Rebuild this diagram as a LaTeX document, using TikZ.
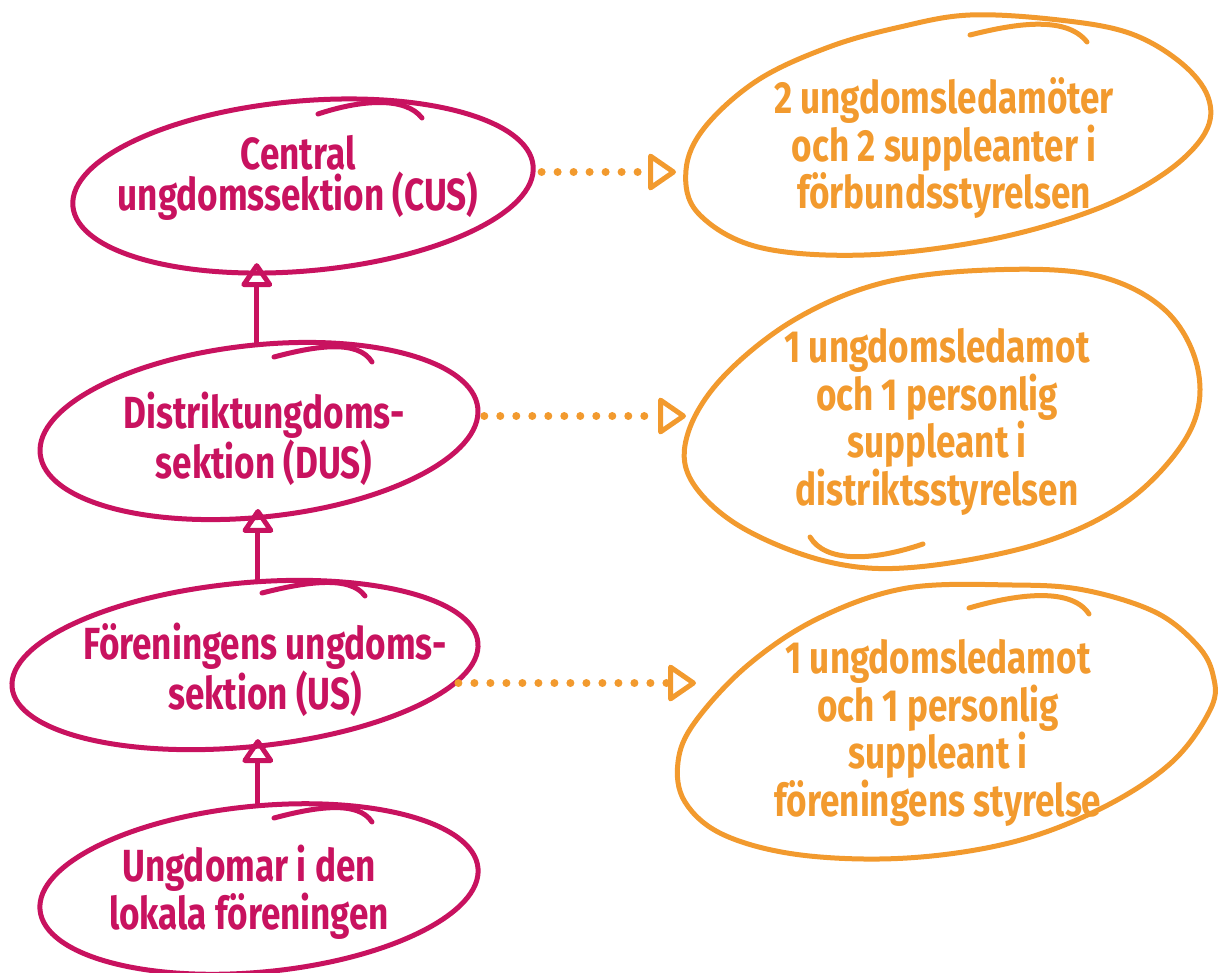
\documentclass[tikz,border=0pt]{standalone}
\usepackage{fontspec}
\setmainfont{Fira Sans}[FakeStretch=0.78]
\usetikzlibrary{shapes.geometric,arrows.meta}
\definecolor{mag}{HTML}{C8125F}
\definecolor{org}{HTML}{F29A2E}
\begin{document}
\begin{tikzpicture}[x=1pt,y=-1pt,
  mel/.style={draw=mag, line width=5pt, ellipse, inner sep=0pt},
  oline/.style={draw=org, line width=5pt, line join=round},
  mtail/.style={draw=mag, line width=5pt, line cap=round},
  otail/.style={draw=org, line width=5pt, line cap=round},
  mtxt/.style={text=mag, align=center, font=\fontsize{45}{41}\selectfont\bfseries},
  otxt/.style={text=org, align=center, font=\fontsize{45}{41}\selectfont\bfseries},
  uparr/.style={draw=mag, line width=5pt, -{Triangle[open, length=26pt, width=34pt, round]}},
  dotarr/.style={draw=org, line width=8pt, line cap=round, dash pattern=on 0pt off 16pt,
    -{Triangle[open, length=30pt, width=40pt, line width=5pt, round]}}
]
\useasboundingbox (0,0) rectangle (1222,972);

% magenta ellipses
\node[mel, minimum width=462pt, minimum height=170pt, rotate=5] (cus) at (303,186) {};
\node[mel, minimum width=440pt, minimum height=172pt, rotate=6] (dus) at (259,431) {};
\node[mel, minimum width=468pt, minimum height=164pt, rotate=5.5] (us) at (245,665) {};
\node[mel, minimum width=440pt, minimum height=166pt, rotate=5.5] (ung) at (259,889) {};

% orange hand-drawn loops
\draw[oline] plot[smooth cycle, tension=0.6] coordinates {
  (970,15) (1059,20) (1129,33) (1180,62) (1208,97) (1205,133) (1165,173)
  (1094,210) (988,240) (864,255) (758,247) (698,213) (686,170) (705,127)
  (758,80) (829,47) (900,27)};
\draw[oline] plot[smooth cycle, tension=0.6] coordinates {
  (988,270) (1094,275) (1165,310) (1198,370) (1189,433) (1129,500)
  (1041,543) (917,567) (829,562) (741,527) (691,480) (688,433) (723,377)
  (794,320) (882,283)};
\draw[oline] plot[smooth cycle, tension=0.6] coordinates {
  (907,588) (1013,585) (1084,590) (1155,612) (1197,645) (1213,675) (1211,708)
  (1172,762) (1102,808) (1013,842) (907,858) (801,855) (724,835) (685,802)
  (678,762) (695,722) (748,665) (819,618)};

% tails of the hand-drawn loops
\draw[mtail] (318,114) .. controls (360,100) and (405,96) .. (422,118);
\draw[mtail] (274,357) .. controls (315,346) and (358,339) .. (372,362);
\draw[mtail] (262,593) .. controls (305,582) and (350,575) .. (365,596);
\draw[mtail] (274,818) .. controls (315,807) and (358,800) .. (372,822);
\draw[otail] (970,35) .. controls (1010,25) and (1065,14) .. (1087,42);
\draw[otail] (810,537) .. controls (825,562) and (870,562) .. (923,544);
\draw[otail] (969,608) .. controls (1010,596) and (1070,585) .. (1089,614);

% texts
\node[mtxt] (tcus) at (298,178) {Central\\ungdomssektion (CUS)};
\node[mtxt] (tdus) at (264,439) {Distriktungdoms-\\sektion (DUS)};
\node[mtxt] (tus) at (265,670) {Föreningens ungdoms-\\sektion (US)};
\node[mtxt] (tung) at (249,892) {Ungdomar i den\\lokala föreningen};
\node[otxt] (to1) at (944,148) {2 ungdomsledamöter\\och 2 suppleanter i\\förbundsstyrelsen};
\node[otxt] (to2) at (937,422) {1 ungdomsledamot\\och 1 personlig\\suppleant i\\distriktsstyrelsen};
\node[otxt] (to3) at (938,733) {1 ungdomsledamot\\och 1 personlig\\suppleant i\\föreningens styrelse};

% ends of the dotted connectors on the orange loops
\coordinate (a1) at (676,172);
\coordinate (a2) at (686,416);
\coordinate (a3) at (696,683);

% upward arrows
\draw[uparr, shorten >=-10pt] ([xshift=7pt]ung.north) -- ([xshift=7pt]ung.north |- us.south);
\draw[uparr, shorten >=-10pt] ([xshift=21pt]us.north) -- ([xshift=21pt]us.north |- dus.south);
\draw[uparr, shorten >=-10pt] ([xshift=7pt]dus.north) -- ([xshift=7pt]dus.north |- cus.south);

% dotted arrows
\draw[dotarr] ([xshift=6pt]cus.east |- a1) -- (a1);
\draw[dotarr] ([xshift=4pt]dus.east |- a2) -- (a2);
\draw[dotarr] ([xshift=-22pt]us.east |- a3) -- (a3);
\end{tikzpicture}
\end{document}
